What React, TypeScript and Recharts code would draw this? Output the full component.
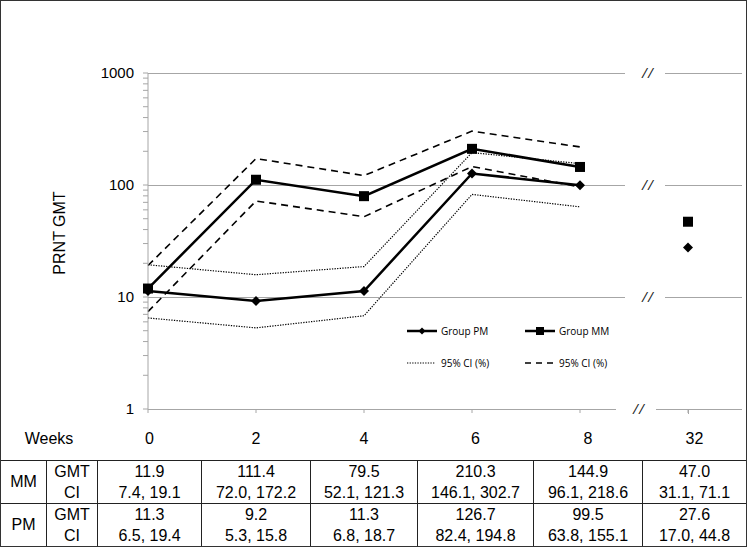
import React from "react"
import { LineChart, XAxis, YAxis, Line, ReferenceLine, Legend } from "recharts"

// weeks after vaccination
const weeks = ["0", "2", "4", "6", "8", "32"]

const mmGmt = [11.9, 111.4, 79.5, 210.3, 144.9, 47.0]
const mmLow = [7.4, 72.0, 52.1, 146.1, 96.1, 31.1]
const mmHigh = [19.1, 172.2, 121.3, 302.7, 218.6, 71.1]

const pmGmt = [11.3, 9.2, 11.3, 126.7, 99.5, 27.6]
const pmLow = [6.5, 5.3, 6.8, 82.4, 63.8, 17.0]
const pmHigh = [19.4, 15.8, 18.7, 194.8, 155.1, 44.8]

const majorTicks = [1, 10, 100, 1000]
const minorTicks = [2, 3, 4, 5, 6, 7, 8, 9, 20, 30, 40, 50, 60, 70, 80, 90, 200, 300, 400, 500, 600, 700, 800, 900]

// week 32 is shown after an axis break, markers only
const lastIdx = weeks.length - 1
const rows = weeks.map((w, i) => ({
    week: w,
    mm: i < lastIdx ? mmGmt[i] : null,
    pm: i < lastIdx ? pmGmt[i] : null,
    mmLate: i === lastIdx ? mmGmt[i] : null,
    pmLate: i === lastIdx ? pmGmt[i] : null,
    mmLo: i < lastIdx ? mmLow[i] : null,
    mmHi: i < lastIdx ? mmHigh[i] : null,
    pmLo: i < lastIdx ? pmLow[i] : null,
    pmHi: i < lastIdx ? pmHigh[i] : null,
}))

const GRID = "#a6a6a6"
const ARIAL = "'Liberation Sans', Arial, sans-serif"
const RIGHT_PAD = 54

const Square = (p: any) => {
    if (p.cx == null || p.cy == null || p.value == null) return <g key={p.key} />
    return <rect key={p.key} x={p.cx - 5} y={p.cy - 5} width={10} height={10} fill="#000" />
}

const Diamond = (p: any) => {
    if (p.cx == null || p.cy == null || p.value == null) return <g key={p.key} />
    const { cx, cy } = p
    return <path key={p.key} d={`M${cx},${cy - 5}L${cx + 5},${cy}L${cx},${cy + 5}L${cx - 5},${cy}Z`} fill="#000" />
}

// horizontal line with the "//" break before week 32
function BrokenLine(props: any) {
    const { x1, x2, y1, shift = 0, lastTick = false } = props
    const cut = Math.round(x2 - 94 - shift)
    const y = Math.round(y1)
    return (
        <g>
            <rect x={Math.round(x1)} y={y} width={cut - 23 - Math.round(x1)} height={1} fill={GRID} />
            <rect x={cut + 17} y={y} width={Math.round(x2) - cut - 17} height={1} fill={GRID} />
            {lastTick && <rect x={Math.round(x2 - RIGHT_PAD)} y={y} width={1} height={5} fill={GRID} />}
            <text x={cut} y={y1 + 5} textAnchor="middle" fontSize={14} fontStyle="italic"
                fontFamily="'Open Sans', sans-serif" fill="#222" letterSpacing={1}>//</text>
        </g>
    )
}

const YTick = (p: any) => {
    const v = p.payload.value
    if (!majorTicks.includes(v)) return <g />
    return (
        <text x={p.x} y={p.y} dy={5} textAnchor="end" fontSize={15} fontFamily={ARIAL} fill="#000">
            {v}
        </text>
    )
}

const NoLabel = () => <g />

const YLabel = (p: any) => {
    const vb = p.viewBox || {}
    const cy = (vb.y || 0) + (vb.height || 0) / 2 - 8
    return (
        <text x={65} y={cy} transform={`rotate(-90, 65, ${cy})`} textAnchor="middle"
            fontSize={16} fontFamily={ARIAL} fill="#000">PRNT GMT</text>
    )
}

const legendItems = [
    { label: "Group PM", kind: "diamond" },
    { label: "Group MM", kind: "square" },
    { label: "95% CI (%)", kind: "dotted" },
    { label: "95% CI (%)", kind: "dashed" },
]

function LegendIcon({ kind }: { kind: string }) {
    return (
        <svg width={30} height={10} style={{ display: "block" }}>
            {kind === "diamond" && <>
                <line x1={0} x2={30} y1={5} y2={5} stroke="#000" strokeWidth={2.5} />
                <path d="M15,1.5L18.5,5L15,8.5L11.5,5Z" fill="#000" />
            </>}
            {kind === "square" && <>
                <line x1={0} x2={30} y1={5} y2={5} stroke="#000" strokeWidth={2.5} />
                <rect x={11} y={1} width={8} height={8} fill="#000" />
            </>}
            {kind === "dotted" && <line x1={0} x2={28} y1={5} y2={5} stroke="#000" strokeWidth={1.2} strokeDasharray="1.3 1.3" />}
            {kind === "dashed" && <line x1={0} x2={30} y1={5} y2={5} stroke="#000" strokeWidth={1.5} strokeDasharray="6 5" />}
        </svg>
    )
}

function LegendBox() {
    return (
        <div style={{ position: "relative", width: 230, height: 50 }}>
            {legendItems.map((it, i) => (
                <div key={i} style={{
                    position: "absolute", left: (i % 2) * 118, top: Math.floor(i / 2) * 32,
                    display: "flex", alignItems: "center", gap: 4,
                    fontFamily: "'Open Sans', sans-serif", fontSize: 10, color: "#000", whiteSpace: "nowrap",
                }}>
                    <LegendIcon kind={it.kind} />
                    <span>{it.label}</span>
                </div>
            ))}
        </div>
    )
}

const colWidths = [46, 51, 104, 109, 107, 116, 109, 104]
const cellBorder = "1px solid #222"

function DataTable() {
    const groups = [
        { name: "MM", gmt: mmGmt, lo: mmLow, hi: mmHigh },
        { name: "PM", gmt: pmGmt, lo: pmLow, hi: pmHigh },
    ]
    const td: React.CSSProperties = { border: cellBorder, padding: 0, textAlign: "center", lineHeight: "21px" }
    return (
        <table style={{
            position: "absolute", left: 0, top: 419, width: 747, borderCollapse: "collapse",
            tableLayout: "fixed", fontFamily: ARIAL, fontSize: 16, color: "#000",
        }}>
            <colgroup>
                {colWidths.map((w, i) => <col key={i} style={{ width: w }} />)}
            </colgroup>
            <tbody>
                <tr style={{ height: 41 }}>
                    <td colSpan={2} style={{ textAlign: "center", padding: 0 }}>Weeks</td>
                    {weeks.map(w => <td key={w} style={{ textAlign: "center", padding: 0 }}>{w}</td>)}
                </tr>
                {groups.map(g => (
                    <tr key={g.name} style={{ height: 43 }}>
                        <td style={td}>{g.name}</td>
                        <td style={td}><div>GMT</div><div>CI</div></td>
                        {weeks.map((w, i) => (
                            <td key={w} style={td}>
                                <div>{g.gmt[i].toFixed(1)}</div>
                                <div>{g.lo[i].toFixed(1)}, {g.hi[i].toFixed(1)}</div>
                            </td>
                        ))}
                    </tr>
                ))}
            </tbody>
        </table>
    )
}

export default function App() {
    return (
        <div style={{ position: "relative", width: 747, height: 547, background: "#fff", overflow: "hidden" }}>
            <style>{`body{margin:0}`}</style>
            <div style={{ position: "absolute", left: 0, top: 0 }}>
                <LineChart
                    width={747}
                    height={430}
                    data={rows}
                    margin={{ top: 73, right: 5, left: 0, bottom: 0 }}
                >
                    <XAxis dataKey="week" scale="point" padding={{ left: 0, right: RIGHT_PAD }} interval={0}
                        tick={NoLabel} tickSize={4} tickLine={{ stroke: GRID }} axisLine={false} height={21} />
                    <YAxis type="number" scale="log" domain={[1, 1000]} allowDataOverflow
                        ticks={[...majorTicks, ...minorTicks].sort((a, b) => a - b)} interval={0}
                        width={148} tickSize={5} tickMargin={9}
                        tickLine={{ stroke: GRID }} axisLine={{ stroke: GRID }}
                        tick={YTick} label={<YLabel />} />
                    <ReferenceLine y={1000} stroke={GRID} shape={(p: any) => <BrokenLine {...p} />} />
                    <ReferenceLine y={100} stroke={GRID} shape={(p: any) => <BrokenLine {...p} />} />
                    <ReferenceLine y={10} stroke={GRID} shape={(p: any) => <BrokenLine {...p} />} />
                    <ReferenceLine y={1} stroke={GRID} shape={(p: any) => <BrokenLine {...p} shift={9} lastTick />} />
                    <Legend verticalAlign="middle" layout="horizontal" width={230}
                        wrapperStyle={{ left: 407, top: 324 }} content={() => <LegendBox />} />
                    <Line dataKey="pmLo" stroke="#000" strokeWidth={1.2} strokeDasharray="1.3 1.3" dot={false} isAnimationActive={false} legendType="none" />
                    <Line dataKey="pmHi" stroke="#000" strokeWidth={1.2} strokeDasharray="1.3 1.3" dot={false} isAnimationActive={false} legendType="none" />
                    <Line dataKey="mmLo" stroke="#000" strokeWidth={1.6} strokeDasharray="7 5" dot={false} isAnimationActive={false} legendType="none" />
                    <Line dataKey="mmHi" stroke="#000" strokeWidth={1.6} strokeDasharray="7 5" dot={false} isAnimationActive={false} legendType="none" />
                    <Line dataKey="pm" stroke="#000" strokeWidth={2.5} dot={Diamond} isAnimationActive={false} />
                    <Line dataKey="mm" stroke="#000" strokeWidth={2.5} dot={Square} isAnimationActive={false} />
                    <Line dataKey="pmLate" stroke="none" dot={Diamond} isAnimationActive={false} />
                    <Line dataKey="mmLate" stroke="none" dot={Square} isAnimationActive={false} />
                </LineChart>
            </div>
            <DataTable />
            <div style={{ position: "absolute", left: 0, top: 0, width: 747, height: 547, boxSizing: "border-box", border: "1px solid #333", pointerEvents: "none" }} />
        </div>
    )
}
